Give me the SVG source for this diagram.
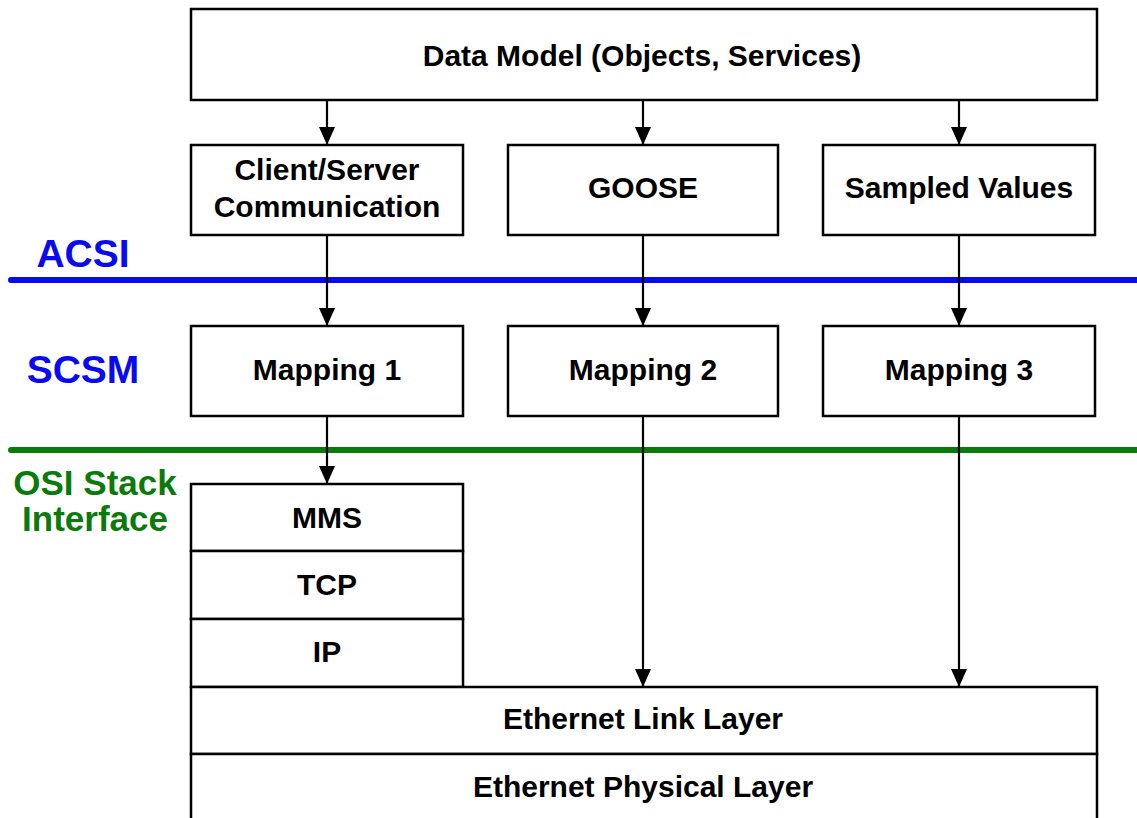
<svg xmlns="http://www.w3.org/2000/svg" width="1137" height="818" viewBox="0 0 1137 818">
<defs>
<marker id="ah" markerWidth="18" markerHeight="16" refX="18" refY="8" orient="auto" markerUnits="userSpaceOnUse" viewBox="0 0 18 16">
<path d="M0,0 L18,8 L0,16 Z" fill="#000"/>
</marker>
<style>
.box{fill:#fff;stroke:#000;stroke-width:2.5}
.t{font-family:"Liberation Sans",Arial,sans-serif;font-weight:bold;font-size:30px;fill:#000;text-anchor:middle}
.blue{font-family:"Liberation Sans",Arial,sans-serif;font-weight:bold;font-size:39px;text-anchor:middle;fill:#0a0af0}
.green{font-family:"Liberation Sans",Arial,sans-serif;font-weight:bold;font-size:35px;text-anchor:middle;fill:#0b7a0b}
.conn{stroke:#000;stroke-width:2.2;fill:none}
</style>
</defs>
<rect width="1137" height="818" fill="#fff"/>
<g id="layer-lines">
<line x1="11" y1="280" x2="1140" y2="280" stroke="#0a0af0" stroke-width="6" stroke-linecap="round"/>
<line x1="11" y1="450" x2="1140" y2="450" stroke="#0b7a0b" stroke-width="6" stroke-linecap="round"/>
</g>
<g id="labels">
<text class="blue" x="83" y="267">ACSI</text>
<text class="blue" x="83" y="383">SCSM</text>
<text class="green" x="95" y="495">OSI Stack</text>
<text class="green" x="95" y="531">Interface</text>
</g>
<g id="data-model">
<rect class="box" x="191" y="9" width="906" height="91"/>
<text class="t" x="642" y="66">Data Model (Objects, Services)</text>
</g>
<g id="client-server">
<rect class="box" x="191" y="145" width="272" height="90"/>
<text class="t" x="327" y="180">Client/Server</text>
<text class="t" x="327" y="217">Communication</text>
</g>
<g id="goose">
<rect class="box" x="508" y="145" width="270" height="90"/>
<text class="t" x="643" y="198">GOOSE</text>
</g>
<g id="sampled-values">
<rect class="box" x="823" y="145" width="272" height="90"/>
<text class="t" x="959" y="198">Sampled Values</text>
</g>
<g id="mapping1">
<rect class="box" x="191" y="326" width="272" height="90"/>
<text class="t" x="327" y="380">Mapping 1</text>
</g>
<g id="mapping2">
<rect class="box" x="508" y="326" width="270" height="90"/>
<text class="t" x="643" y="380">Mapping 2</text>
</g>
<g id="mapping3">
<rect class="box" x="823" y="326" width="272" height="90"/>
<text class="t" x="959" y="380">Mapping 3</text>
</g>
<g id="mms">
<rect class="box" x="191" y="484" width="272" height="67"/>
<text class="t" x="327" y="528">MMS</text>
</g>
<g id="tcp">
<rect class="box" x="191" y="551" width="272" height="68"/>
<text class="t" x="327" y="595">TCP</text>
</g>
<g id="ip">
<rect class="box" x="191" y="619" width="272" height="68"/>
<text class="t" x="327" y="662">IP</text>
</g>
<g id="ethernet-link">
<rect class="box" x="191" y="687" width="906" height="67"/>
<text class="t" x="643" y="729">Ethernet Link Layer</text>
</g>
<g id="ethernet-physical">
<rect class="box" x="191" y="754" width="906" height="80"/>
<text class="t" x="643" y="797">Ethernet Physical Layer</text>
</g>
<g id="connectors">
<line class="conn" x1="327" y1="100" x2="327" y2="145" marker-end="url(#ah)"/>
<line class="conn" x1="643" y1="100" x2="643" y2="145" marker-end="url(#ah)"/>
<line class="conn" x1="959" y1="100" x2="959" y2="145" marker-end="url(#ah)"/>
<line class="conn" x1="327" y1="235" x2="327" y2="326" marker-end="url(#ah)"/>
<line class="conn" x1="643" y1="235" x2="643" y2="326" marker-end="url(#ah)"/>
<line class="conn" x1="959" y1="235" x2="959" y2="326" marker-end="url(#ah)"/>
<line class="conn" x1="327" y1="416" x2="327" y2="484" marker-end="url(#ah)"/>
<line class="conn" x1="643" y1="416" x2="643" y2="687" marker-end="url(#ah)"/>
<line class="conn" x1="959" y1="416" x2="959" y2="687" marker-end="url(#ah)"/>
</g>
</svg>
